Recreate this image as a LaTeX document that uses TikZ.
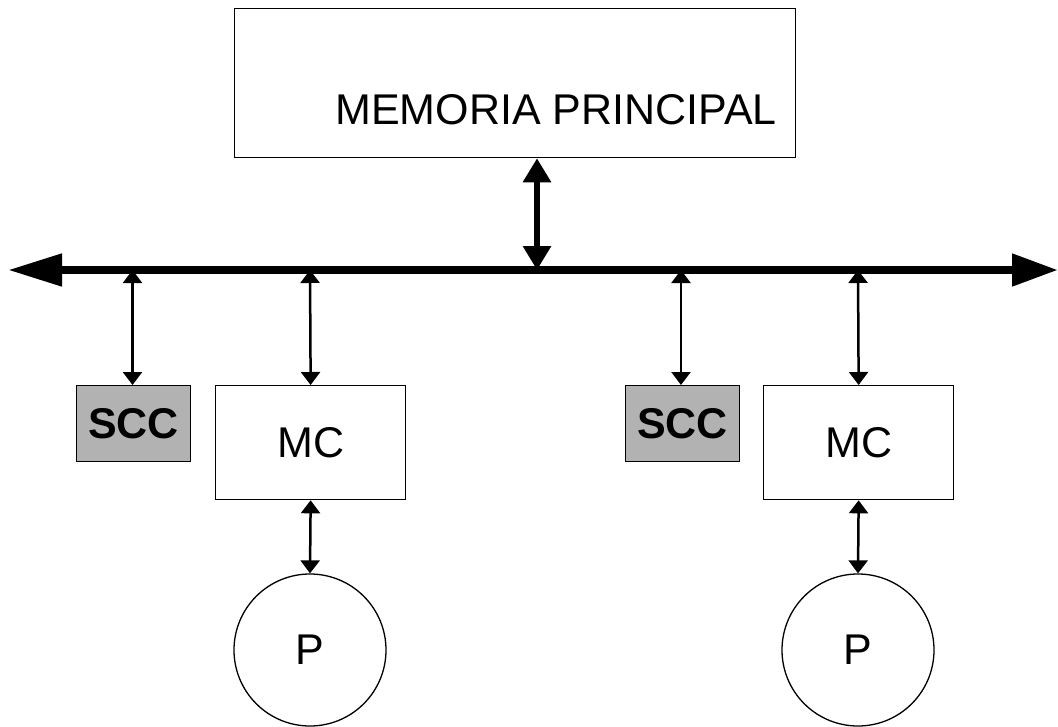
\documentclass[tikz,border=0pt]{standalone}
\usepackage{fontspec}
\setmainfont{Liberation Sans}
\usetikzlibrary{arrows.meta}
\begin{document}
\begin{tikzpicture}[x=1pt,y=-1pt,
  boxst/.style={draw=black,line width=1.3pt,inner sep=0pt,anchor=north west},
  lbl/.style={font=\fontsize{43}{47}\selectfont,inner sep=0pt},
  busline/.style={line width=8pt,{Triangle[length=54pt,width=31pt]}-{Triangle[length=46pt,width=31pt]}},
  bigarrow/.style={line width=6pt,{Triangle[length=24pt,width=27pt]}-{Triangle[length=24pt,width=27pt]}},
  smallarrow/.style={line width=2.5pt,{Triangle[length=13pt,width=19pt]}-{Triangle[length=13pt,width=19pt]}}
]
\useasboundingbox (0,0) rectangle (1058,726);
% memory
\node[boxst,minimum width=561pt,minimum height=149pt] (mem) at (234,8) {};
\node[lbl] (memtext) at (556,110) {MEMORIA PRINCIPAL};
% bus
\coordinate (busL) at (8,270);
\coordinate (busR) at (1058,270);
\draw[busline] (busL) -- (busR);
\coordinate (bm) at (537,270);
\draw[bigarrow] (mem.south -| bm) -- (bm);
% left group
\node[boxst,fill=black!30,minimum width=114pt,minimum height=76pt] (scc1) at (76,385) {};
\node[lbl,font=\fontsize{43}{47}\selectfont\bfseries] at (scc1.center) {SCC};
\node[boxst,minimum width=190pt,minimum height=114pt] (mc1) at (215,385) {};
\node[lbl] at (mc1.center) {MC};
\node[draw=black,line width=1.3pt,circle,minimum size=152pt,inner sep=0pt,lbl] (p1) at (310,650) {P};
\coordinate (b1) at (132.5,270);
\coordinate (b2) at (310,270);
\draw[smallarrow] (b1) -- (scc1.north -| b1);
\draw[smallarrow] (b2) -- (mc1.north);
\draw[smallarrow] (mc1.south) -- (p1.north);
% right group
\node[boxst,fill=black!30,minimum width=114pt,minimum height=76pt] (scc2) at (625,385) {};
\node[lbl,font=\fontsize{43}{47}\selectfont\bfseries] at (scc2.center) {SCC};
\node[boxst,minimum width=190pt,minimum height=114pt] (mc2) at (763,385) {};
\node[lbl] at (mc2.center) {MC};
\node[draw=black,line width=1.3pt,circle,minimum size=152pt,inner sep=0pt,lbl] (p2) at (858,650) {P};
\coordinate (b3) at (681,270);
\coordinate (b4) at (858,270);
\draw[smallarrow] (b3) -- (scc2.north -| b3);
\draw[smallarrow] (b4) -- (mc2.north);
\draw[smallarrow] (mc2.south) -- (p2.north);
\end{tikzpicture}
\end{document}
